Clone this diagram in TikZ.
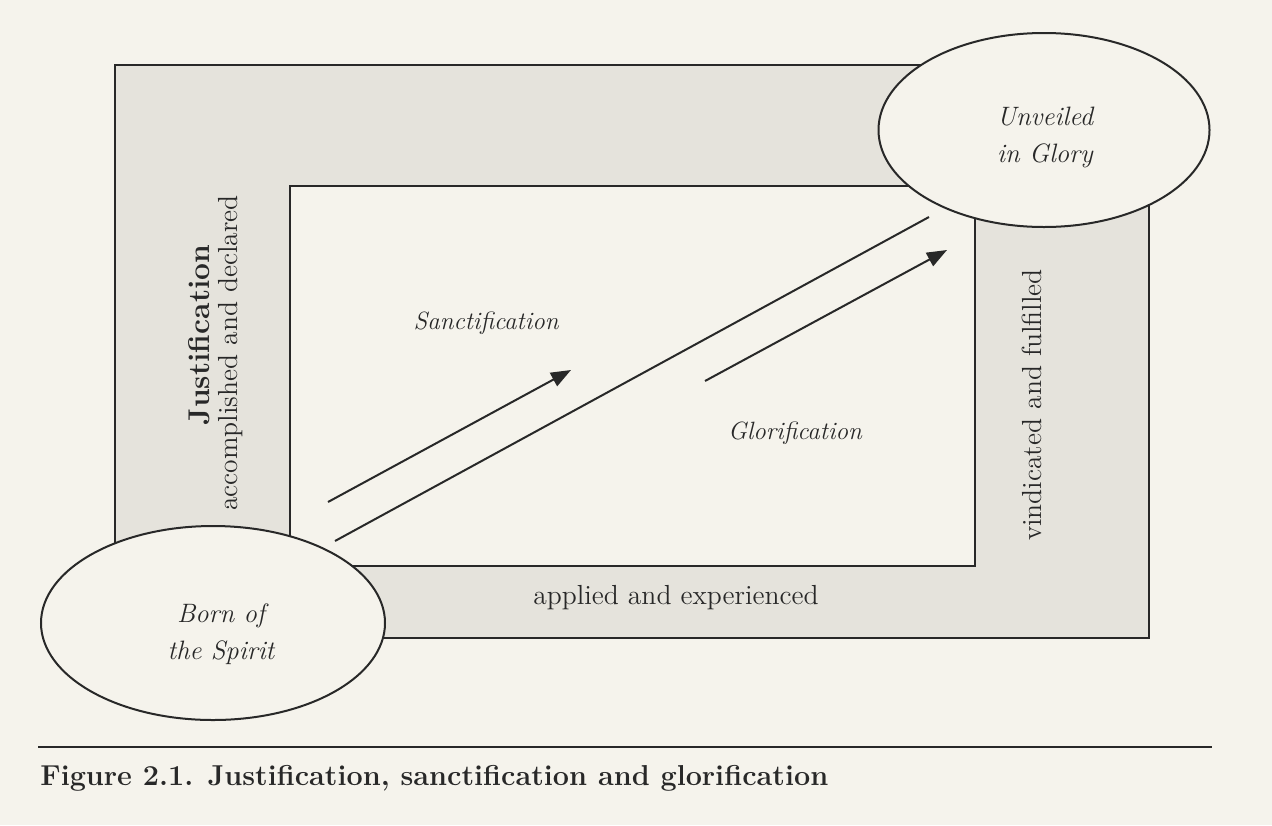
\documentclass[tikz,border=0pt]{standalone}
\usetikzlibrary{shapes.geometric,arrows.meta}
\definecolor{paper}{RGB}{245,243,236}
\definecolor{bandgrey}{RGB}{229,227,220}
\definecolor{ink}{RGB}{40,40,40}
\tikzset{
  outline/.style={draw=ink, line width=1pt},
  bubble/.style={ellipse, outline, fill=paper, inner sep=0pt},
  bubbletext/.style={align=center, inner sep=0pt,
    font=\fontsize{13.3}{18.5}\selectfont\itshape, text=ink},
  plain/.style={font=\fontsize{13.8}{16}\selectfont, text=ink},
  phase/.style={font=\fontsize{12.5}{16}\selectfont\itshape, text=ink},
  headword/.style={font=\fontsize{15}{18}\selectfont\bfseries, text=ink},
  pointer/.style={draw=ink, line width=1pt, -{Triangle[length=10pt,width=7.5pt]}},
  rail/.style={draw=ink, line width=1pt}
}
\begin{document}
\begin{tikzpicture}[x=0.5pt,y=-0.5pt]
\useasboundingbox[fill=paper] (0,0) rectangle (1272,825);
% grey band
\path[outline, fill=bandgrey, even odd rule]
  (115,65) rectangle (1149,638) (290,186) rectangle (975,566);
% ellipses
\node[bubble, minimum width=165.5pt, minimum height=97pt] (glory) at (1044,130) {};
\node[bubbletext] (glorylabel) at (1045,137) {Unveiled\\in Glory};
\node[bubble, minimum width=172pt, minimum height=97pt] (born) at (213,623) {};
\node[bubbletext] (bornlabel) at (221,634) {Born of\\the Spirit};
% band labels
\node[headword, rotate=90, anchor=base] (just) at (209,335) {Justification};
\node[plain, rotate=90, anchor=base] (accomp) at (237,353) {accomplished and declared};
\node[plain, rotate=90, anchor=base] (vind) at (1041,405) {vindicated and fulfilled};
\node[plain] (appl) at (676,598) {applied and experienced};
% phase labels
\node[phase] (sanct) at (486,323) {Sanctification};
\node[phase] (glorif) at (795,433) {Glorification};
% arrows
\coordinate (s1) at (328,502);
\coordinate (e1) at (571,370);
\coordinate (s2) at (335,541);
\coordinate (e2) at (929,217);
\coordinate (s3) at (705,381);
\coordinate (e3) at (947,250);
\draw[pointer] (s1) -- (e1);
\draw[rail] (s2) -- (e2);
\draw[pointer] (s3) -- (e3);
% caption
\coordinate (ruleL) at (38,747);
\coordinate (ruleR) at (1212,747);
\draw[ink, line width=1pt] (ruleL) -- (ruleR);
\node[anchor=west, inner sep=0pt, font=\fontsize{14.4}{16}\selectfont\bfseries, text=ink] (cap) at (40,778) {Figure 2.1. Justification, sanctification and glorification};
\end{tikzpicture}
\end{document}
